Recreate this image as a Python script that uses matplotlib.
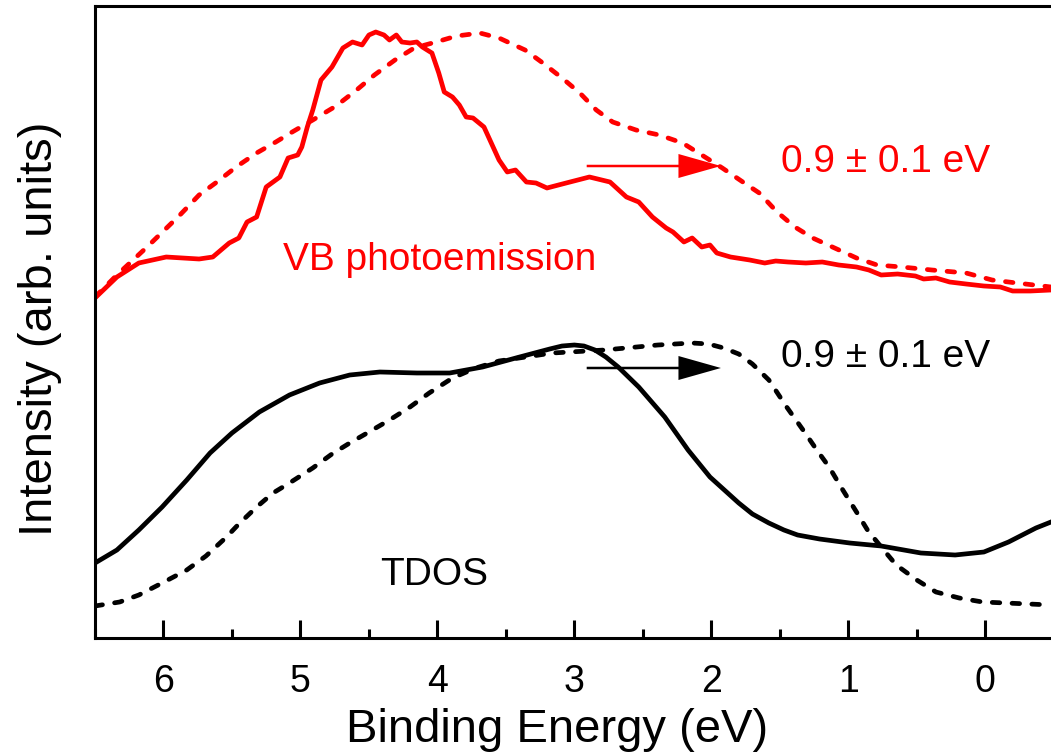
import matplotlib
matplotlib.use("Agg")
from matplotlib import pyplot as plt
from matplotlib.ticker import MultipleLocator

plt.rcParams["font.family"] = ["Liberation Sans", "DejaVu Sans"]

# VB photoemission (measured), binding energy in eV, intensity in arb. units
vb_energy = [6.50, 6.34, 6.18, 5.98, 5.74, 5.64, 5.52, 5.45, 5.39, 5.32, 5.25, 5.15,
             5.09, 5.02, 4.99, 4.95, 4.91, 4.85, 4.77, 4.69, 4.62, 4.55, 4.50, 4.45,
             4.39, 4.35, 4.30, 4.26, 4.20, 4.15, 4.11, 4.04, 3.99, 3.95, 3.89, 3.84,
             3.79, 3.74, 3.66, 3.60, 3.55, 3.49, 3.43, 3.35, 3.28, 3.20, 3.06, 2.89,
             2.74, 2.62, 2.53, 2.43, 2.33, 2.28, 2.20, 2.14, 2.07, 2.01, 1.96, 1.86,
             1.72, 1.61, 1.53, 1.44, 1.31, 1.19, 1.07, 0.94, 0.85, 0.76, 0.64, 0.51,
             0.45, 0.36, 0.26, 0.14, 0.01, -0.11, -0.20, -0.33, -0.48]
vb_intensity = [3.39, 3.60, 3.74, 3.80, 3.78, 3.80, 3.94, 3.99, 4.15, 4.20, 4.50, 4.60,
                4.79, 4.82, 4.90, 5.10, 5.27, 5.57, 5.70, 5.89, 5.95, 5.92, 6.02, 6.05,
                6.02, 5.97, 6.02, 5.95, 5.94, 5.95, 5.90, 5.84, 5.64, 5.45, 5.40, 5.32,
                5.20, 5.19, 5.10, 4.92, 4.77, 4.65, 4.67, 4.55, 4.54, 4.49, 4.54, 4.60,
                4.55, 4.40, 4.35, 4.20, 4.09, 4.05, 3.95, 3.99, 3.90, 3.92, 3.84, 3.80,
                3.77, 3.74, 3.76, 3.75, 3.74, 3.75, 3.72, 3.70, 3.67, 3.62, 3.63, 3.61,
                3.58, 3.59, 3.55, 3.53, 3.51, 3.50, 3.46, 3.46, 3.47]

# VB photoemission, shifted / broadened
vb_shift_energy = [6.50, 6.34, 6.12, 5.88, 5.74, 5.61, 5.47, 5.32, 5.18, 5.06, 4.91,
                   4.74, 4.59, 4.46, 4.31, 4.17, 4.01, 3.86, 3.69, 3.55, 3.36, 3.24,
                   3.09, 2.96, 2.84, 2.72, 2.55, 2.38, 2.21, 2.07, 1.92, 1.77, 1.65,
                   1.52, 1.39, 1.26, 1.10, 0.94, 0.79, 0.61, 0.39, 0.14, -0.05, -0.23,
                   -0.42, -0.48]
vb_shift_intensity = [3.40, 3.62, 3.90, 4.22, 4.42, 4.55, 4.70, 4.84, 4.95, 5.05, 5.17,
                      5.31, 5.47, 5.62, 5.77, 5.89, 5.95, 6.01, 6.04, 5.99, 5.87, 5.75,
                      5.59, 5.44, 5.27, 5.15, 5.07, 5.02, 4.94, 4.82, 4.69, 4.55, 4.44,
                      4.25, 4.10, 3.99, 3.89, 3.79, 3.72, 3.70, 3.67, 3.64, 3.57, 3.54,
                      3.51, 3.50]

# TDOS
tdos_energy = [6.50, 6.34, 6.18, 6.01, 5.83, 5.66, 5.50, 5.30, 5.08, 4.86, 4.64, 4.42,
               4.15, 3.91, 3.67, 3.40, 3.18, 3.09, 3.00, 2.93, 2.85, 2.77, 2.68, 2.53,
               2.34, 2.17, 2.01, 1.80, 1.70, 1.58, 1.47, 1.37, 1.21, 0.99, 0.76, 0.47,
               0.22, 0.01, -0.17, -0.37, -0.48]
tdos_intensity = [0.74, 0.87, 1.07, 1.30, 1.57, 1.84, 2.04, 2.25, 2.42, 2.54, 2.62, 2.65,
                  2.64, 2.64, 2.70, 2.80, 2.88, 2.91, 2.92, 2.91, 2.87, 2.80, 2.70, 2.50,
                  2.20, 1.87, 1.60, 1.34, 1.23, 1.14, 1.07, 1.02, 0.98, 0.94, 0.91, 0.84,
                  0.82, 0.85, 0.95, 1.09, 1.15]

# TDOS, shifted
tdos_shift_energy = [6.50, 6.32, 6.18, 6.01, 5.83, 5.69, 5.54, 5.45, 5.32, 5.20, 5.08,
                     4.91, 4.77, 4.64, 4.50, 4.35, 4.20, 4.06, 3.89, 3.72, 3.55, 3.16,
                     2.78, 2.39, 2.14, 2.02, 1.91, 1.80, 1.70, 1.58, 1.45, 1.32, 1.23,
                     1.14, 1.04, 0.94, 0.86, 0.76, 0.65, 0.50, 0.36, 0.19, 0.02, -0.15,
                     -0.32, -0.48]
tdos_shift_intensity = [0.31, 0.35, 0.42, 0.54, 0.67, 0.81, 1.00, 1.13, 1.30, 1.44, 1.54,
                        1.69, 1.83, 1.94, 2.05, 2.17, 2.30, 2.44, 2.59, 2.69, 2.76, 2.84,
                        2.87, 2.92, 2.94, 2.93, 2.89, 2.83, 2.73, 2.57, 2.30, 2.05, 1.87,
                        1.70, 1.47, 1.25, 1.07, 0.90, 0.72, 0.57, 0.45, 0.39, 0.35, 0.34,
                        0.33, 0.32]

shift_label = "0.9 ± 0.1 eV"

fig = plt.figure(figsize=(10.51, 7.54), dpi=100)
ax = fig.add_axes([95 / 1051, 116 / 754, 1 - 95 / 1051, 632 / 754])

red = "#ff0000"
lw = 3.4
dash = (1.6, 2.6)

ax.plot(vb_energy, vb_intensity, color=red, lw=lw, solid_joinstyle="round")
ax.plot(vb_shift_energy, vb_shift_intensity, color=red, lw=lw,
        linestyle=(0, dash), dash_capstyle="round")
ax.plot(tdos_energy, tdos_intensity, color="black", lw=lw, solid_joinstyle="round")
ax.plot(tdos_shift_energy, tdos_shift_intensity, color="black", lw=lw,
        linestyle=(0, dash), dash_capstyle="round")

# shift arrows
for y, c in [(4.71, red), (2.69, "black")]:
    ax.arrow(2.91, y, -0.98, 0, width=0.025, head_width=0.24, head_length=0.31,
             length_includes_head=True, color=c, lw=0)

ax.text(1.49, 4.75, shift_label, color=red, fontsize=28, va="center")
ax.text(1.49, 2.80, shift_label, color="black", fontsize=28, va="center")
ax.text(5.13, 3.77, "VB photoemission", color=red, fontsize=28, va="center")
ax.text(4.42, 0.62, "TDOS", color="black", fontsize=28, va="center")

ax.set_xlim(6.5, -0.48)
ax.set_ylim(-0.01, 6.31)
ax.xaxis.set_major_locator(MultipleLocator(1))
ax.xaxis.set_minor_locator(MultipleLocator(0.5))
ax.set_yticks([])
ax.tick_params(axis="x", which="major", direction="in", length=13, width=2.2,
               labelsize=27, pad=19)
ax.tick_params(axis="x", which="minor", direction="in", length=6.5, width=2.2)
ax.tick_params(top=False, which="both")
for side in ["left", "bottom", "top"]:
    ax.spines[side].set_linewidth(2.2)
ax.spines["right"].set_visible(False)

ax.set_xlabel("Binding Energy (eV)", fontsize=34)
ax.xaxis.set_label_coords(0.483, -0.11)
ax.set_ylabel("Intensity (arb. units)", fontsize=34)
ax.yaxis.set_label_coords(-0.034, 0.489)

fig.savefig("out.png", dpi=100)
